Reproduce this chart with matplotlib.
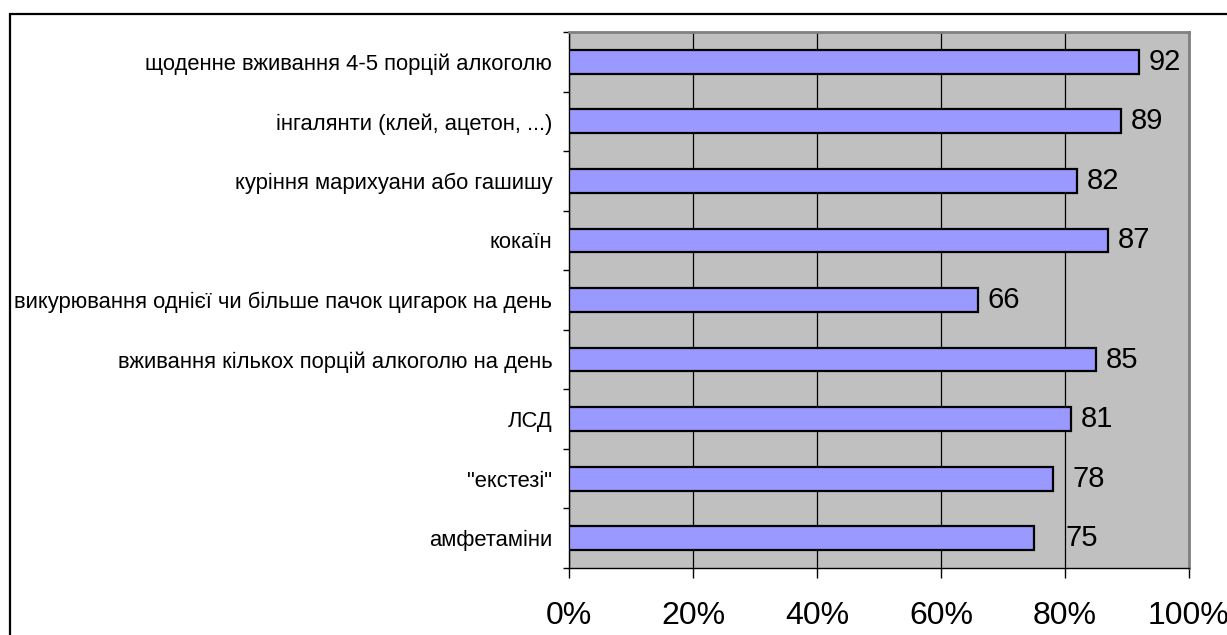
import matplotlib.pyplot as plt
from matplotlib.patches import Rectangle
from matplotlib.ticker import FixedLocator, PercentFormatter

plt.rcParams['font.family'] = ['Liberation Sans', 'DejaVu Sans']

categories = [
    "щоденне вживання 4-5 порцій алкоголю",
    "інгалянти (клей, ацетон, ...)",
    "куріння марихуани або гашишу",
    "кокаїн",
    "викурювання однієї чи більше пачок цигарок на день",
    "вживання кількох порцій алкоголю на день",
    "ЛСД",
    "\"екстезі\"",
    "амфетаміни",
]
values = [92, 89, 82, 87, 66, 85, 81, 78, 75]
x_ticks = [0, 20, 40, 60, 80, 100]

# gap between bar end and its value label, in points
# (the last two are pushed right so they clear the 80% gridline)
label_gap = [7, 7, 7, 7, 7, 7, 7, 14, 23]

fig = plt.figure(figsize=(12.27, 6.35), dpi=100)
ax = fig.add_axes([569 / 1227, 1 - 568 / 635, 620 / 1227, 536 / 635])

# outer frame of the chart object
fig.patches.append(Rectangle((10 / 1227, -0.1), 1.2, 1 - 14 / 635 + 0.1,
                             transform=fig.transFigure, fill=False,
                             edgecolor='black', linewidth=1.6))

ax.set_facecolor('#C0C0C0')
n = len(categories)
ypos = list(range(n))[::-1]
ax.barh(ypos, values, height=0.4, color='#9999FF', edgecolor='black',
        linewidth=1.6, zorder=3)

for y, v, gap in zip(ypos, values, label_gap):
    ax.annotate(str(v), (v, y), xytext=(gap, 0), textcoords='offset points',
                va='center', ha='left', fontsize=21, zorder=4)

ax.set_xlim(0, 100)
ax.set_ylim(-0.5, n - 0.5)
ax.set_xticks(x_ticks)
ax.xaxis.set_major_formatter(PercentFormatter(decimals=0))
ax.tick_params(axis='x', length=7, width=1, pad=17, labelsize=23)
ax.grid(axis='x', color='black', linewidth=0.9, zorder=1)

ax.set_yticks(ypos)
ax.set_yticklabels(categories, fontsize=15.8)
ax.yaxis.set_minor_locator(FixedLocator([i - 0.5 for i in range(n + 1)]))
ax.tick_params(axis='y', which='major', length=0, pad=12)
ax.tick_params(axis='y', which='minor', length=4, width=1)

for side in ('top', 'right'):
    ax.spines[side].set_color('#808080')
    ax.spines[side].set_linewidth(2)
for side in ('left', 'bottom'):
    ax.spines[side].set_color('black')
    ax.spines[side].set_linewidth(1)

fig.savefig('out.png', dpi=100)
